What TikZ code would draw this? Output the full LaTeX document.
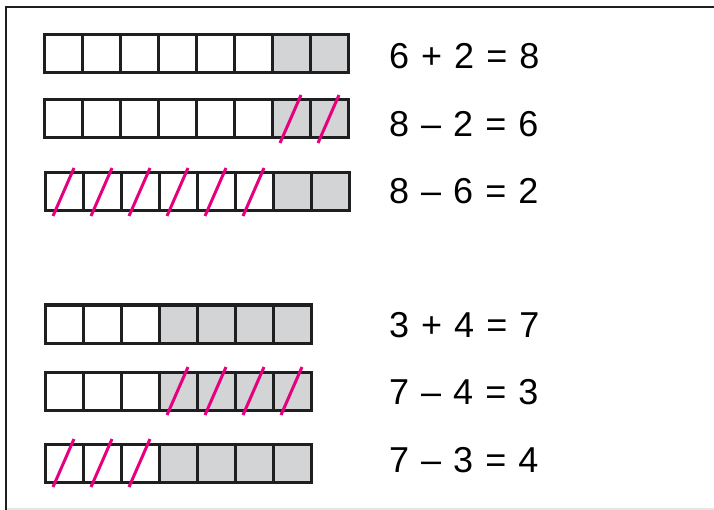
\documentclass[tikz,border=0pt]{standalone}
\usepackage{fontspec}
\setmainfont{Liberation Sans}[WordSpace=1.2]

\definecolor{slashpink}{RGB}{230,0,126}
\definecolor{cellgray}{RGB}{211,212,214}

\tikzset{
    cellbox/.style={draw=black!88, line width=3pt},
    slash/.style={draw=slashpink, line width=3pt},
    sumtext/.style={anchor=west, inner sep=0pt, font=\fontsize{36}{40}\selectfont}
}

% thanh o vuong: x0, y0 (goc tren trai), so o trang, so o xam
\newcommand{\cellbar}[4]{%
    \foreach \i in {1,...,#3}
        \fill[white] ({#1+38*(\i-1)}, #2) rectangle ++(38, 38);
    \foreach \i in {1,...,#4}
        \fill[cellgray] ({#1+38*(#3+\i-1)}, #2) rectangle ++(38, 38);
    \foreach \i in {1,...,\numexpr#3+#4\relax}
        \draw[cellbox] ({#1+38*(\i-1)}, #2) rectangle ++(38, 38);
}

% gach cheo o thu i tu i = #3 den #4
\newcommand{\crossout}[4]{%
    \foreach \i in {#3,...,#4}
        \draw[slash] ({#1+38*(\i-1)+8}, {#2+43}) -- ({#1+38*(\i-1)+29}, {#2-5});
}

\begin{document}
\begin{tikzpicture}[x=1pt, y=-1pt]

    \useasboundingbox (0, 0) rectangle (714, 510);

    % 1. Khung
    \draw[black!10, line width=1.5pt] (6, 509) -- (714, 509);
    \draw[black!88, line width=2.5pt] (714, 7) -- (6, 7) -- (6, 510);

    % 2. Nhom 6 + 2
    \cellbar{44}{35}{6}{2}
    \cellbar{44}{100}{6}{2}
    \crossout{44}{100}{7}{8}
    \cellbar{45}{173}{6}{2}
    \crossout{45}{173}{1}{6}

    \node[sumtext] (s1) at (389, 56) {6 + 2 = 8};
    \node[sumtext] (s2) at (389, 124) {8 – 2 = 6};
    \node[sumtext] (s3) at (389, 191) {8 – 6 = 2};

    % 3. Nhom 3 + 4
    \cellbar{45}{305}{3}{4}
    \cellbar{45}{372}{3}{4}
    \crossout{45}{372}{4}{7}
    \cellbar{45}{444}{3}{4}
    \crossout{45}{444}{1}{3}

    \node[sumtext] (s4) at (389, 325) {3 + 4 = 7};
    \node[sumtext] (s5) at (389, 392) {7 – 4 = 3};
    \node[sumtext] (s6) at (389, 460) {7 – 3 = 4};

\end{tikzpicture}
\end{document}
